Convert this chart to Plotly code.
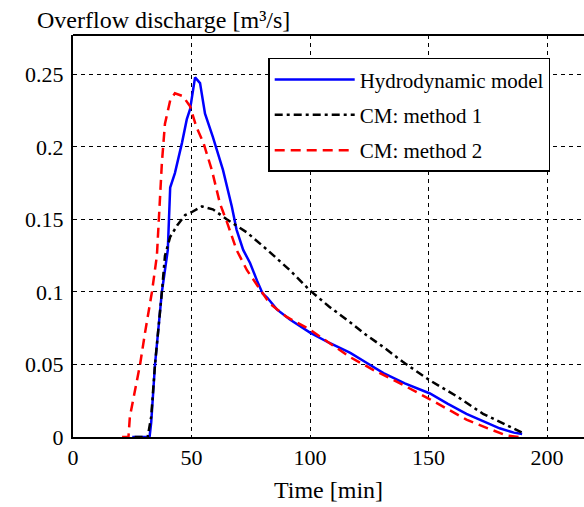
import plotly.graph_objects as go

# Hydrodynamic model (blue)
t_hydro = [25, 32.3, 33, 34.6, 37.5, 40, 41, 43, 46, 48, 49.4, 51.5, 53.6,
           55.7, 59, 63.3, 67, 69, 71.8, 74.7, 77.6, 80, 82, 86, 91.5, 100,
           108, 117, 124, 131, 140, 150.6, 158, 166, 173, 180, 186, 189.5]
q_hydro = [0, 0, 0.01, 0.05, 0.1, 0.129, 0.172, 0.182, 0.203, 0.219, 0.226,
           0.248, 0.244, 0.223, 0.207, 0.184, 0.159, 0.143, 0.129, 0.12,
           0.108, 0.099, 0.096, 0.088, 0.081, 0.072, 0.065, 0.058, 0.051,
           0.044, 0.037, 0.03, 0.023, 0.016, 0.011, 0.006, 0.003, 0.002]

# Conceptual model, method 1 (black dash-dot)
t_cm1 = [26, 31.5, 33, 34.6, 37.5, 38.8, 41, 44, 47.3, 50, 54.4, 59, 65,
         73.4, 82, 91.5, 100, 108, 117, 124, 131, 139, 150.6, 162, 173,
         184, 189.5]
q_cm1 = [0, 0, 0.014, 0.05, 0.1, 0.125, 0.138, 0.146, 0.153, 0.155, 0.159,
         0.157, 0.15, 0.141, 0.129, 0.115, 0.101, 0.09, 0.079, 0.07, 0.062,
         0.052, 0.039, 0.028, 0.016, 0.007, 0.003]

# Conceptual model, method 2 (red dashed)
t_cm2 = [20.7, 23.4, 24, 26, 28.3, 30.4, 33.3, 35.4, 36, 37.5, 38.8, 41, 43,
         46.4, 49.4, 52, 55, 58.6, 62, 65, 69, 73.4, 78, 83, 90, 100, 108,
         117, 127, 138, 150.6, 158, 166, 175, 183, 188]
q_cm2 = [0, 0, 0.014, 0.032, 0.05, 0.072, 0.1, 0.125, 0.143, 0.189, 0.216,
         0.232, 0.237, 0.235, 0.228, 0.214, 0.203, 0.184, 0.161, 0.148,
         0.129, 0.115, 0.104, 0.092, 0.083, 0.074, 0.065, 0.055, 0.046,
         0.037, 0.026, 0.019, 0.012, 0.006, 0.001, 0]

x_ticks = [0, 50, 100, 150, 200]
y_ticks = [0, 0.05, 0.1, 0.15, 0.2, 0.25]
y_labels = ["0", "0.05", "0.1", "0.15", "0.2", "0.25"]

FONT = "Liberation Serif, Times New Roman, serif"

fig = go.Figure()

fig.add_trace(go.Scatter(
    x=t_hydro, y=q_hydro, mode="lines", name="Hydrodynamic model",
    legendgroup="a",
    line=dict(color="#0000ff", width=2.5)
))
fig.add_trace(go.Scatter(
    x=t_cm1, y=q_cm1, mode="lines", name="CM: method 1",
    legendgroup="b",
    line=dict(color="#000000", width=2.5, dash="8px,4px,3px,4px")
))
fig.add_trace(go.Scatter(
    x=t_cm2, y=q_cm2, mode="lines", name="CM: method 2",
    legendgroup="c",
    line=dict(color="#ff0000", width=2.5, dash="10px,6px")
))

fig.update_xaxes(
    range=[0, 215.6],
    tickvals=x_ticks,
    showgrid=True,
    gridcolor="#000000",
    gridwidth=1.2,
    griddash="4px,4px",
    showline=True,
    linecolor="#000000",
    linewidth=2,
    mirror=False,
    zeroline=False,
    ticks="",
    automargin=False,
    tickfont=dict(family=FONT, size=22, color="#000000"),
    title=dict(text="Time [min]", font=dict(family=FONT, size=24,
                                             color="#000000"), standoff=12),
)

fig.update_yaxes(
    range=[0, 0.2772],
    tickvals=y_ticks,
    ticktext=y_labels,
    showgrid=True,
    gridcolor="#000000",
    gridwidth=1.2,
    griddash="4px,4px",
    showline=True,
    linecolor="#000000",
    linewidth=2,
    mirror=False,
    zeroline=False,
    ticks="",
    automargin=False,
    ticklabelstandoff=3,
    tickfont=dict(family=FONT, size=22, color="#000000"),
)

fig.update_layout(
    template="none",
    width=584,
    height=507,
    margin=dict(l=73, r=0, t=35, b=70),
    paper_bgcolor="white",
    plot_bgcolor="white",
    font=dict(family=FONT, color="#000000"),
    showlegend=True,
    legend=dict(
        x=0.382, y=0.943, xanchor="left", yanchor="top",
        bgcolor="white",
        bordercolor="#000000",
        borderwidth=1.5,
        font=dict(family=FONT, size=21, color="#000000"),
        itemwidth=80,
        tracegroupgap=5,
    ),
    # top frame line of the axes box
    shapes=[
        dict(type="line", xref="paper", yref="paper", x0=0, x1=1, y0=1, y1=1,
             line=dict(color="#000000", width=2))
    ],
    annotations=[
        dict(
            xref="paper", yref="paper",
            x=(35 - 73) / 511, y=(437 - 20) / 402,
            xanchor="left", yanchor="middle",
            text="Overflow discharge [m³/s]",
            showarrow=False,
            font=dict(family=FONT, size=24, color="#000000"),
        )
    ],
)

# drop the page's default body margin so the figure fills the window
fig.write_html(
    "out.html",
    config={"displayModeBar": False},
    post_script="document.body.style.margin='0';"
                "document.body.style.overflow='hidden';",
)
